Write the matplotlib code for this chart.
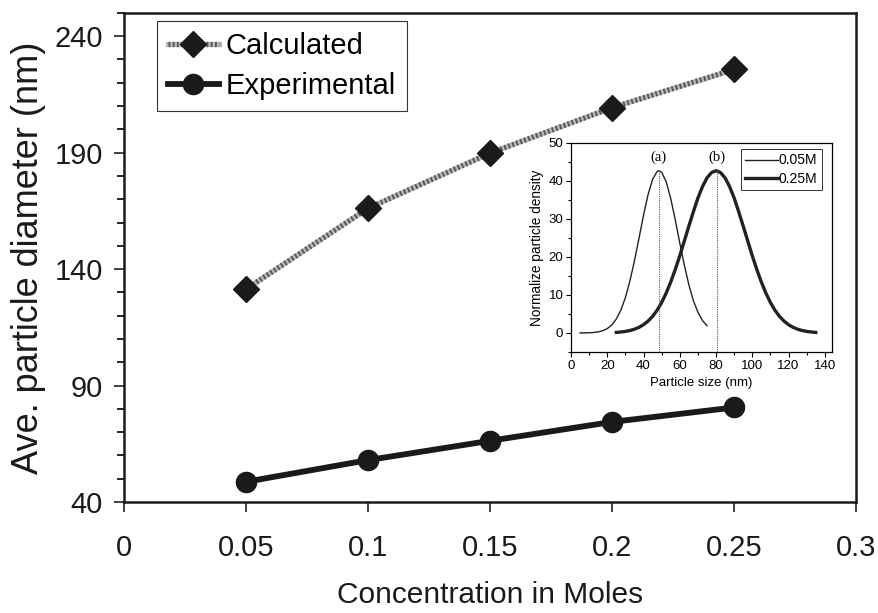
import matplotlib
matplotlib.use("Agg")
import matplotlib.pyplot as plt
from matplotlib.lines import Line2D
from matplotlib.ticker import MultipleLocator

plt.rcParams['font.family'] = ['Liberation Sans', 'DejaVu Sans']

# main chart data
conc = [0.05, 0.10, 0.15, 0.20, 0.25]
calculated = [131.4, 166.1, 189.8, 209.3, 225.7]
experimental = [48.7, 58.0, 66.3, 74.4, 80.6]

# inset: size distributions
size_a = [5, 7.5, 10, 12.5, 15, 17.5, 20, 22.5, 25, 27.5, 30, 32.5, 35, 37.5,
          40, 42.5, 45, 47.5, 48.5, 50, 52.5, 55, 57.5, 60, 62.5, 65, 67.5,
          70, 72.5, 75]
dens_a = [0.01, 0.02, 0.06, 0.13, 0.29, 0.59, 1.15, 2.1, 3.7, 6.0, 9.3, 13.7,
          19.0, 24.9, 31.0, 36.4, 40.4, 42.5, 42.7, 42.3, 39.8, 35.4, 29.8,
          23.7, 17.9, 12.7, 8.5, 5.5, 3.3, 1.9]
size_b = [25, 27.5, 30, 32.5, 35, 37.5, 40, 42.5, 45, 47.5, 50, 52.5, 55,
          57.5, 60, 62.5, 65, 67.5, 70, 72.5, 75, 77.5, 80, 82.5, 85, 87.5,
          90, 92.5, 95, 97.5, 100, 102.5, 105, 107.5, 110, 112.5, 115, 117.5,
          120, 122.5, 125, 127.5, 130, 132.5, 135]
dens_b = [0.15, 0.26, 0.41, 0.65, 0.99, 1.49, 2.18, 3.13, 4.37, 5.98, 8.02,
          10.5, 13.4, 16.7, 20.3, 24.2, 28.1, 31.9, 35.5, 38.5, 40.8, 42.2,
          42.7, 42.2, 40.8, 38.5, 35.5, 31.9, 28.1, 24.2, 20.3, 16.7, 13.4,
          10.5, 8.02, 5.98, 4.37, 3.13, 2.18, 1.49, 0.99, 0.65, 0.41, 0.26,
          0.15]
peaks = [48.5, 80.5]
peak_labels = ['(a)', '(b)']

fig = plt.figure(figsize=(8.79, 6.13), dpi=100)
ax = fig.add_axes([0.141, 0.181, 0.833, 0.798])

# calculated: grey textured line with diamonds
ax.plot(conc, calculated, color='#b8b8b8', lw=3.8, solid_capstyle='butt', zorder=2)
ax.plot(conc, calculated, color='#555555', lw=3.8, ls=(0, (0.35, 0.45)), zorder=2)
ax.plot(conc, calculated, ls='none', marker='D', ms=13, color='#1a1a1a', zorder=3)
# experimental
ax.plot(conc, experimental, color='#1a1a1a', lw=4.2, marker='o', ms=14.5, zorder=3)

ax.set_xlim(0, 0.3)
ax.set_ylim(40, 250)
ax.set_xticks([0, 0.05, 0.1, 0.15, 0.2, 0.25, 0.3])
ax.set_xticklabels(['0', '0.05', '0.1', '0.15', '0.2', '0.25', '0.3'])
ax.set_yticks([40, 90, 140, 190, 240])
ax.yaxis.set_minor_locator(MultipleLocator(10))
ax.tick_params(axis='both', which='major', direction='out', labelsize=21,
               length=7, width=1.2, color='#222222', labelcolor='#1a1a1a')
ax.tick_params(axis='x', pad=16)
ax.tick_params(axis='y', pad=8)
ax.tick_params(axis='y', which='minor', direction='out', length=5, width=1.2)
for s in ax.spines.values():
    s.set_linewidth(1.8)
    s.set_color('#1a1a1a')
ax.set_xlabel('Concentration in Moles', fontsize=21.5, labelpad=14, color='#1a1a1a')
ax.set_ylabel('Ave. particle diameter (nm)', fontsize=26, labelpad=6, color='#1a1a1a')

h_calc = (Line2D([], [], color='#b8b8b8', lw=3.8),
          Line2D([], [], color='#555555', lw=3.8, ls=(0, (0.35, 0.45))),
          Line2D([], [], ls='none', marker='D', ms=13, color='#1a1a1a'))
h_exp = Line2D([], [], color='#1a1a1a', lw=4.2, marker='o', ms=14.5)
leg = ax.legend([h_calc, h_exp], ['Calculated', 'Experimental'],
                loc='upper left', bbox_to_anchor=(0.045, 0.983), fontsize=21,
                fancybox=False, framealpha=1, edgecolor='#333333',
                handlelength=1.75, handletextpad=0.22, borderpad=0.38,
                labelspacing=0.4, borderaxespad=0)
leg.get_frame().set_linewidth(0.8)

# inset
ins = fig.add_axes([0.6496, 0.4258, 0.297, 0.341])
ins.plot(size_a, dens_a, color='#222222', lw=1.0, label='0.05M')
ins.plot(size_b, dens_b, color='#222222', lw=2.4, label='0.25M')
for p, lab in zip(peaks, peak_labels):
    ins.plot([p, p], [-5, 43], color='#555555', lw=0.8, ls=(0, (1, 1)))
    ins.text(p, 46.3, lab, ha='center', va='center', fontsize=10.5,
             family=['Liberation Serif', 'DejaVu Serif'])
ins.set_xlim(0, 144)
ins.set_ylim(-5, 50)
ins.set_xticks(range(0, 141, 20))
ins.set_yticks(range(0, 51, 10))
ins.xaxis.set_minor_locator(MultipleLocator(10))
ins.yaxis.set_minor_locator(MultipleLocator(5))
ins.tick_params(which='major', direction='out', length=3.5, width=0.8,
                labelsize=9.5, pad=2)
ins.tick_params(which='minor', direction='out', length=2, width=0.8)
for s in ins.spines.values():
    s.set_linewidth(0.9)
ins.set_xlabel('Particle size (nm)', fontsize=9.5, labelpad=4)
ins.set_ylabel('Normalize particle density', fontsize=9.8, labelpad=3)
il = ins.legend(loc='upper right', bbox_to_anchor=(0.96, 0.97), fontsize=10,
                fancybox=False, framealpha=1, edgecolor='#333333',
                handlelength=2.4, handletextpad=0.05, borderpad=0.3,
                labelspacing=0.3, borderaxespad=0)
il.get_frame().set_linewidth(0.7)

fig.savefig('out.png', dpi=100)
